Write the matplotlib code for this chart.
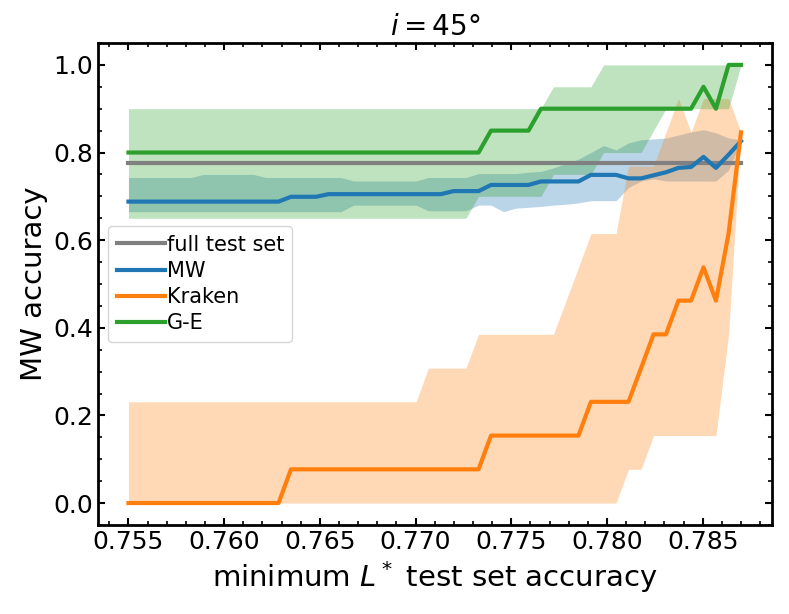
import matplotlib
matplotlib.use("Agg")
import matplotlib.pyplot as plt
from matplotlib.ticker import AutoMinorLocator

# threshold grid (minimum L* test set accuracy)
x = [0.75500, 0.75565, 0.75631, 0.75696, 0.75761, 0.75827, 0.75892, 0.75957,
     0.76022, 0.76088, 0.76153, 0.76218, 0.76284, 0.76349, 0.76414, 0.76480,
     0.76545, 0.76610, 0.76676, 0.76741, 0.76806, 0.76871, 0.76937, 0.77002,
     0.77067, 0.77133, 0.77198, 0.77263, 0.77329, 0.77394, 0.77459, 0.77524,
     0.77590, 0.77655, 0.77720, 0.77786, 0.77851, 0.77916, 0.77982, 0.78047,
     0.78112, 0.78178, 0.78243, 0.78308, 0.78373, 0.78439, 0.78504, 0.78569,
     0.78635, 0.78700]

full_test = 0.775

# MW
mw = ([0.688] * 13 + [0.699] * 3 + [0.705] * 10 + [0.712] * 3 + [0.726] * 4
      + [0.734] * 4 + [0.749] * 3 + [0.741] * 2
      + [0.748, 0.755, 0.765, 0.767, 0.79, 0.765, 0.795, 0.826])
mw_hi = ([0.743] * 6 + [0.75] * 5 + [0.743] * 7 + [0.735] * 6 + [0.743] * 4
         + [0.752] * 4
         + [0.755, 0.757, 0.765, 0.775, 0.785, 0.80, 0.816, 0.806, 0.822, 0.829,
            0.831, 0.833, 0.84, 0.847, 0.852, 0.845, 0.833, 0.829])
mw_lo = ([0.665] * 18 + [0.68] * 6 + [0.667] * 4
         + [0.68, 0.68, 0.665, 0.673, 0.675, 0.677, 0.68, 0.682, 0.685, 0.69,
            0.69, 0.69, 0.72, 0.735, 0.74, 0.735, 0.735, 0.735, 0.735, 0.735,
            0.76, 0.826])

# Kraken
kr = ([0.0] * 13 + [0.077] * 16 + [0.154] * 8 + [0.231] * 4 + [0.308]
      + [0.385] * 2 + [0.462] * 2 + [0.538] + [0.462] + [0.615] + [0.846])
kr_hi = ([0.231] * 24 + [0.308] * 4 + [0.385] * 7 + [0.462] + [0.538]
         + [0.615] * 3 + [0.769] * 3 + [0.846] + [0.923] + [0.846]
         + [0.923] * 3 + [0.846])
kr_lo = [0.0] * 40 + [0.077] * 2 + [0.154] * 6 + [0.385] + [0.846]

# G-E
ge = [0.8] * 29 + [0.85] * 4 + [0.9] * 13 + [0.95] + [0.9] + [1.0] * 2
ge_hi = [0.9] * 34 + [0.95] * 4 + [1.0] * 12
ge_lo = ([0.65] * 28 + [0.7] * 6 + [0.75] * 4 + [0.8] * 4 + [0.85]
         + [0.9] * 6 + [1.0])

fig, ax = plt.subplots(figsize=(7.89, 6.14), dpi=100)
fig.subplots_adjust(left=0.124, right=0.978, bottom=0.145, top=0.930)

ax.plot(x, [full_test] * len(x), color="gray", lw=3, label="full test set", zorder=3)

series = [("MW", mw, mw_lo, mw_hi, "C0"),
          ("Kraken", kr, kr_lo, kr_hi, "C1"),
          ("G-E", ge, ge_lo, ge_hi, "C2")]
for name, y, lo, hi, c in series:
    ax.fill_between(x, lo, hi, color=c, alpha=0.3, lw=0, zorder=1)
    ax.plot(x, y, color=c, lw=3, label=name, zorder=3)

ax.set_title(r"$i=45\degree$", fontsize=20)
ax.set_xlabel(r"minimum $L^*$ test set accuracy", fontsize=21)
ax.set_ylabel("MW accuracy", fontsize=21)

ax.xaxis.set_minor_locator(AutoMinorLocator())
ax.yaxis.set_minor_locator(AutoMinorLocator())
ax.tick_params(which="both", direction="in", top=True, right=True, labelsize=18)
ax.tick_params(which="major", length=5, width=1.5)
ax.tick_params(which="minor", length=3, width=1.2)
for sp in ax.spines.values():
    sp.set_linewidth(2)

ax.legend(loc="center left", fontsize=15, handletextpad=0.1, handlelength=2.3,
          labelspacing=0.3)

fig.savefig("out.png", dpi=100)
